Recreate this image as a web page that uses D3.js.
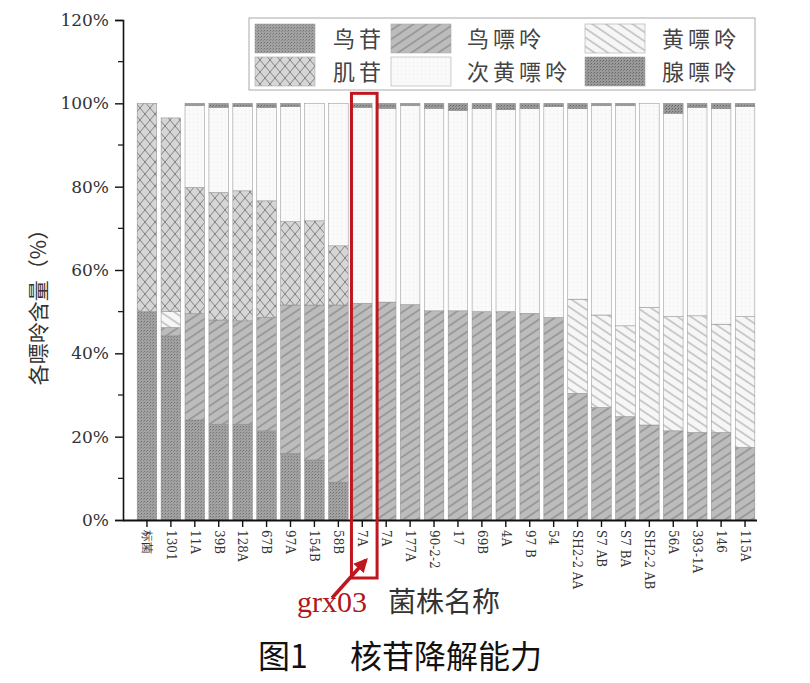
<!DOCTYPE html>
<html><head><meta charset="utf-8">
<script src="https://cdn.jsdelivr.net/npm/d3@7"></script>
<style>body{margin:0;background:#fff}svg{display:block}</style>
</head><body>
<svg id="c" width="810" height="683"></svg>
<script>
const categories = ["标菌","1301","11A","39B","128A","67B","97A","154B","58B","7A","7A","177A","90-2-2","17","69B","4A","97 B","54","SH2-2 AA","S7 AB","S7 BA","SH2-2 AB","56A","393-1A","146","115A"];
const seriesNames = ["鸟苷","鸟嘌呤","黄嘌呤","肌苷","次黄嘌呤","腺嘌呤"];
const guanosine   = [50,44.2,24.0,23.0,23.0,21.4,16.0,14.4,9.1,0,0,0,0,0,0,0,0,0,0,0,0,0,0,0,0,0];
const guanine     = [0,2.0,25.5,25.0,24.8,27.2,35.6,37.2,42.5,52.0,52.3,51.7,50.2,50.2,50.0,50.0,49.6,48.6,30.4,27.0,24.8,22.8,21.4,21.0,21.0,17.4];
const xanthine    = [0,3.8,0,0,0,0,0,0,0,0,0,0,0,0,0,0,0,0,22.6,22.2,21.8,28.2,27.4,28.0,26.0,31.4];
const inosine     = [50,46.5,30.3,30.6,31.2,28.0,20.0,20.2,14.2,0,0,0,0,0,0,0,0,0,0,0,0,0,0,0,0,0];
const hypoxanthine= [0,0,19.7,20.4,20.2,22.4,27.6,28.2,34.2,47.0,46.5,47.8,48.6,48.1,48.7,48.5,49.1,50.6,45.7,50.3,52.9,49.0,48.8,50.0,51.7,50.4];
const adenine     = [0,0,0.5,1.0,0.8,1.0,0.8,0,0,1.0,1.2,0.5,1.2,1.7,1.3,1.5,1.3,0.8,1.3,0.5,0.5,0,2.4,1.0,1.3,0.8];
const yTicks = [0,20,40,60,80,100,120];
const yMinor = [10,30,50,70,90,110];
const highlightIndex = 9;
const annotation = "grx03";

const svg = d3.select("#c");
const serif = "'DejaVu Serif','Liberation Serif',serif";
const cjk = "'Noto Sans CJK SC','Noto Sans',sans-serif";

// patterns
const defs = svg.append("defs");
function linePat(id, base, stroke, s, ang, w){
  const p = defs.append("pattern").attr("id",id).attr("patternUnits","userSpaceOnUse")
    .attr("width",s).attr("height",s).attr("patternTransform",`rotate(${ang})`);
  p.append("rect").attr("width",s).attr("height",s).attr("fill",base);
  p.append("line").attr("x1",s/2).attr("x2",s/2).attr("y1",0).attr("y2",s).attr("stroke",stroke).attr("stroke-width",w);
}
function dotPat(id, base, dot, dot2){
  const p = defs.append("pattern").attr("id",id).attr("patternUnits","userSpaceOnUse").attr("width",3).attr("height",3);
  p.append("rect").attr("width",3).attr("height",3).attr("fill",base);
  p.append("rect").attr("x",0).attr("y",0).attr("width",1).attr("height",1).attr("fill",dot);
  p.append("rect").attr("x",2).attr("y",1).attr("width",1).attr("height",1).attr("fill",dot2);
}
dotPat("p0","#a2a2a2","#737373","#888");
linePat("p1","#bcbcbc","#6a6a6a",7.5,56,0.8);
linePat("p2","#f6f6f6","#8a8a8a",7.5,-56,0.8);
(function(){
  const w=10,h=12;
  const p = defs.append("pattern").attr("id","p3").attr("patternUnits","userSpaceOnUse").attr("width",w).attr("height",h);
  p.append("rect").attr("width",w).attr("height",h).attr("fill","#d6d6d6");
  p.append("path").attr("d",`M0,0L${w},${h}M${w},0L0,${h}`).attr("stroke","#777").attr("stroke-width",0.9);
})();
(function(){
  const p = defs.append("pattern").attr("id","p4").attr("patternUnits","userSpaceOnUse").attr("width",4).attr("height",4);
  p.append("rect").attr("width",4).attr("height",4).attr("fill","#fafafa");
  p.append("rect").attr("x",1).attr("y",2).attr("width",1).attr("height",1).attr("fill","#ededed");
})();
dotPat("p5","#9a9a9a","#666","#7a7a7a");
const fills = seriesNames.map((d,i)=>`url(#p${i})`);

const x = d3.scaleBand().domain(d3.range(categories.length)).range([135,757]).paddingInner(0.18).paddingOuter(0.09);
const y = d3.scaleLinear().domain([0,120]).range([520,20]);

const rows = categories.map((c,i)=>({i, [seriesNames[0]]:guanosine[i],[seriesNames[1]]:guanine[i],[seriesNames[2]]:xanthine[i],[seriesNames[3]]:inosine[i],[seriesNames[4]]:hypoxanthine[i],[seriesNames[5]]:adenine[i]}));
const stacked = d3.stack().keys(seriesNames)(rows);

const gBars = svg.append("g");
stacked.forEach((layer,k)=>{
  gBars.selectAll(null).data(layer.filter(d=>d[1]-d[0]>0)).join("rect")
    .attr("x",d=>x(d.data.i)).attr("width",x.bandwidth())
    .attr("y",d=>y(d[1])).attr("height",d=>y(d[0])-y(d[1]))
    .attr("fill",fills[k]).attr("stroke","#8c8c8c").attr("stroke-width",0.5);
});

// axes
const yAxis = d3.axisLeft(y).tickValues(yTicks).tickFormat(d=>d+"%").tickSize(8).tickPadding(6);
const gy = svg.append("g").attr("transform","translate(123,0)").call(yAxis);
gy.select(".domain").attr("stroke","#111").attr("stroke-width",1.6);
gy.selectAll(".tick line").attr("stroke","#111").attr("stroke-width",1.4);
gy.selectAll("text").attr("font-family",serif).attr("font-size",17).attr("fill","#333");
gy.selectAll(null).data(yMinor).join("line").attr("x1",-5).attr("x2",0).attr("y1",d=>y(d)).attr("y2",d=>y(d)).attr("stroke","#111").attr("stroke-width",1.2);

const xAxis = d3.axisBottom(x).tickFormat(i=>categories[i]).tickSize(7).tickSizeOuter(0);
const gx = svg.append("g").attr("transform","translate(0,520)").call(xAxis);
gx.select(".domain").attr("d","M123,0.5H757").attr("stroke","#111").attr("stroke-width",1.8);
gx.selectAll(".tick line").attr("stroke","#111").attr("stroke-width",1.4);
gx.selectAll("text").attr("font-family",serif).attr("font-size",12).attr("fill","#333")
  .attr("transform","rotate(90)").attr("text-anchor","start").attr("dy","0.35em").attr("x",10).attr("y",0);

// axis titles
svg.append("text").attr("transform","translate(46,302) rotate(-90)").attr("text-anchor","middle")
  .attr("font-family",cjk).attr("font-size",21).attr("fill","#333").text("各嘌呤含量（%）");
svg.append("text").attr("x",444).attr("y",612).attr("text-anchor","middle")
  .attr("font-family",cjk).attr("font-size",28).attr("fill","#333").text("菌株名称");
svg.append("text").attr("x",258).attr("y",668).attr("font-family",cjk).attr("font-size",32).attr("fill","#111").text("图1");
svg.append("text").attr("x",350).attr("y",668).attr("font-family",cjk).attr("font-size",32).attr("fill","#111").text("核苷降解能力");

// legend
const lg = svg.append("g");
lg.append("rect").attr("x",249).attr("y",18).attr("width",506).attr("height",72).attr("fill","#fff").attr("stroke","#aaa").attr("stroke-width",1);
const swX=[255,391,585], txX=[333,467,662], rowY=[24,57];
seriesNames.forEach((n,i)=>{
  const r=Math.floor(i/3), c=i%3;
  lg.append("rect").attr("x",swX[c]).attr("y",rowY[r]).attr("width",60).attr("height",29).attr("fill",fills[i]).attr("stroke","#aaa").attr("stroke-width",0.6);
  lg.append("text").attr("x",txX[c]).attr("y",rowY[r]+23).attr("font-family",cjk).attr("font-size",22)
    .attr("letter-spacing",4).attr("fill","#444").text(n);
});

// annotation
const hx = x(highlightIndex);
svg.append("rect").attr("x",hx-1).attr("y",y(100)-10).attr("width",x.bandwidth()+6).attr("height",578-(y(100)-10))
  .attr("fill","none").attr("stroke","#c0161e").attr("stroke-width",3);
defs.append("marker").attr("id","ah").attr("viewBox","0 0 10 10").attr("refX",8).attr("refY",5)
  .attr("markerWidth",4).attr("markerHeight",4).attr("orient","auto")
  .append("path").attr("d","M0,0L10,5L0,10z").attr("fill","#c0161e");
svg.append("line").attr("x1",332).attr("y1",598).attr("x2",366).attr("y2",560)
  .attr("stroke","#c0161e").attr("stroke-width",3.5).attr("marker-end","url(#ah)");
svg.append("text").attr("x",297).attr("y",612).attr("font-family","'Liberation Serif',serif").attr("font-size",30).attr("fill","#b0161c").text(annotation);
</script>
</body></html>
